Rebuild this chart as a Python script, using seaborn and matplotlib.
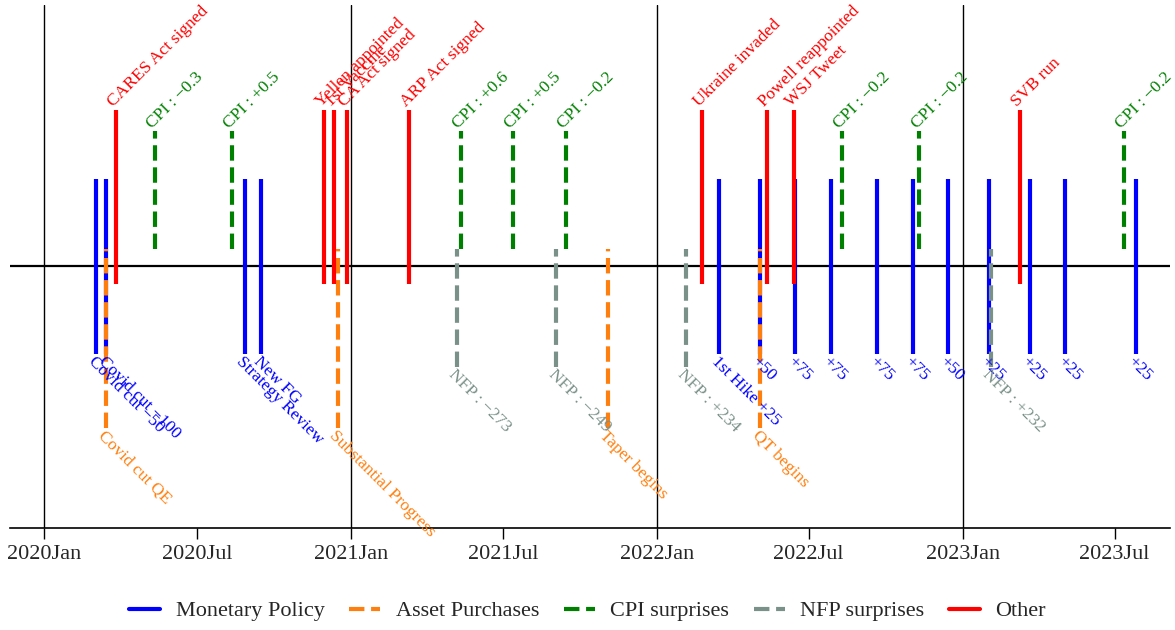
import matplotlib
matplotlib.use('Agg')

import matplotlib.pyplot as plt
import matplotlib.dates as mdates
from matplotlib.lines import Line2D
import seaborn as sns
import pandas as pd

# Event data
mp_dates = ['2020-03-03', '2020-03-15', '2020-08-27', '2020-09-16', '2022-03-16',
            '2022-05-04', '2022-06-15', '2022-07-27', '2022-09-21', '2022-11-02',
            '2022-12-14', '2023-02-01', '2023-03-22', '2023-05-03', '2023-07-26']
mp_labels = ['Covid cut −50', 'Covid cut −100', 'Strategy Review', 'New FG', '1st Hike +25',
             '+50', '+75', '+75', '+75', '+75', '+50', '+25', '+25', '+25', '+25']

ap_dates = ['2020-03-15', '2020-12-16', '2021-11-03', '2022-05-04']
ap_labels = ['Covid cut QE', 'Substantial Progress', 'Taper begins', 'QT begins']

cpi_dates = ['2020-05-12', '2020-08-12', '2021-05-12', '2021-07-13', '2021-09-14',
             '2022-08-10', '2022-11-10', '2023-07-12']
cpi_values = [-0.3, 0.5, 0.6, 0.5, -0.2, -0.2, -0.2, -0.2]

nfp_dates = ['2021-05-07', '2021-09-03', '2022-02-04', '2023-02-03']
nfp_values = [-273, -249, 234, 232]

other_dates = ['2020-03-27', '2020-11-30', '2020-12-11', '2020-12-27', '2021-03-11',
               '2022-02-24', '2022-05-12', '2022-06-13', '2023-03-10']
other_labels = ['CARES Act signed', 'Yellen appointed', '1st Vaccine', 'CA Act signed',
                'ARP Act signed', 'Ukraine invaded', 'Powell reappointed', 'WSJ Tweet', 'SVB run']

year_lines = ['2020-01-01', '2021-01-01', '2022-01-01', '2023-01-01']


def fmt(v, dec):
    s = f"{v:+.{dec}f}"
    return s.replace('-', '−')


cpi_labels = [f"CPI : {fmt(v, 1)}" for v in cpi_values]
nfp_labels = [f"NFP : {fmt(v, 0)}" for v in nfp_values]

GREY = '#7a9189'

# (name, dates, labels, colour, linestyle, low, high, label at top?)
groups = [
    ('Monetary Policy', mp_dates, mp_labels, 'blue', '-', -1.0, 1.0, False),
    ('Asset Purchases', ap_dates, ap_labels, '#ff7f0e', '--', -1.85, 0.2, False),
    ('CPI surprises', cpi_dates, cpi_labels, 'green', '--', 0.2, 1.55, True),
    ('NFP surprises', nfp_dates, nfp_labels, GREY, '--', -1.15, 0.2, False),
    ('Other', other_dates, other_labels, 'red', '-', -0.2, 1.8, True),
]

sns.set_theme(style='white')
plt.rcParams['font.family'] = ['Liberation Serif', 'DejaVu Serif']

fig = plt.figure(figsize=(11.75, 6.3), dpi=100)
ax = fig.add_axes([0.0085, 0.162, 0.9872, 0.83])

for yl in year_lines:
    ax.axvline(pd.Timestamp(yl), color='black', lw=1, zorder=1)
ax.axhline(0, color='black', lw=1.6, zorder=1)

handles = []
for name, dates, labels, color, ls, lo, hi, top in groups:
    xs = pd.to_datetime(dates)
    ax.vlines(xs, lo, hi, colors=color, linestyles=ls, lw=3, zorder=3)
    for x, lab in zip(xs, labels):
        if top:
            ax.text(x, hi, lab, color=color, fontsize=12.6, rotation=45,
                    rotation_mode='anchor', ha='left', va='bottom', zorder=4)
        else:
            ax.text(x, lo, lab, color=color, fontsize=12.6, rotation=-45,
                    rotation_mode='anchor', ha='left', va='top', zorder=4)
    handles.append(Line2D([0], [0], color=color, ls=ls, lw=3, label=name))

ax.set_ylim(-3, 3)
ax.set_xlim(pd.Timestamp('2019-11-21'), pd.Timestamp('2023-09-05'))
ax.xaxis.set_major_locator(mdates.MonthLocator(bymonth=[1, 7]))
ax.xaxis.set_major_formatter(mdates.DateFormatter('%Y%b'))
ax.set_yticks([])
ax.tick_params(axis='x', labelsize=16, length=8, width=1, color='black', bottom=True,
               direction='out', pad=4)
sns.despine(ax=ax, left=True, top=True, right=True)
ax.spines['bottom'].set_color('black')
ax.spines['bottom'].set_linewidth(1.2)

fig.legend(handles=handles, loc='center', bbox_to_anchor=(0.5, 0.03), ncol=5,
           frameon=False, fontsize=16, handlelength=1.4, handletextpad=0.7,
           columnspacing=1.1)

fig.savefig('out.png', dpi=100)
plt.close(fig)
